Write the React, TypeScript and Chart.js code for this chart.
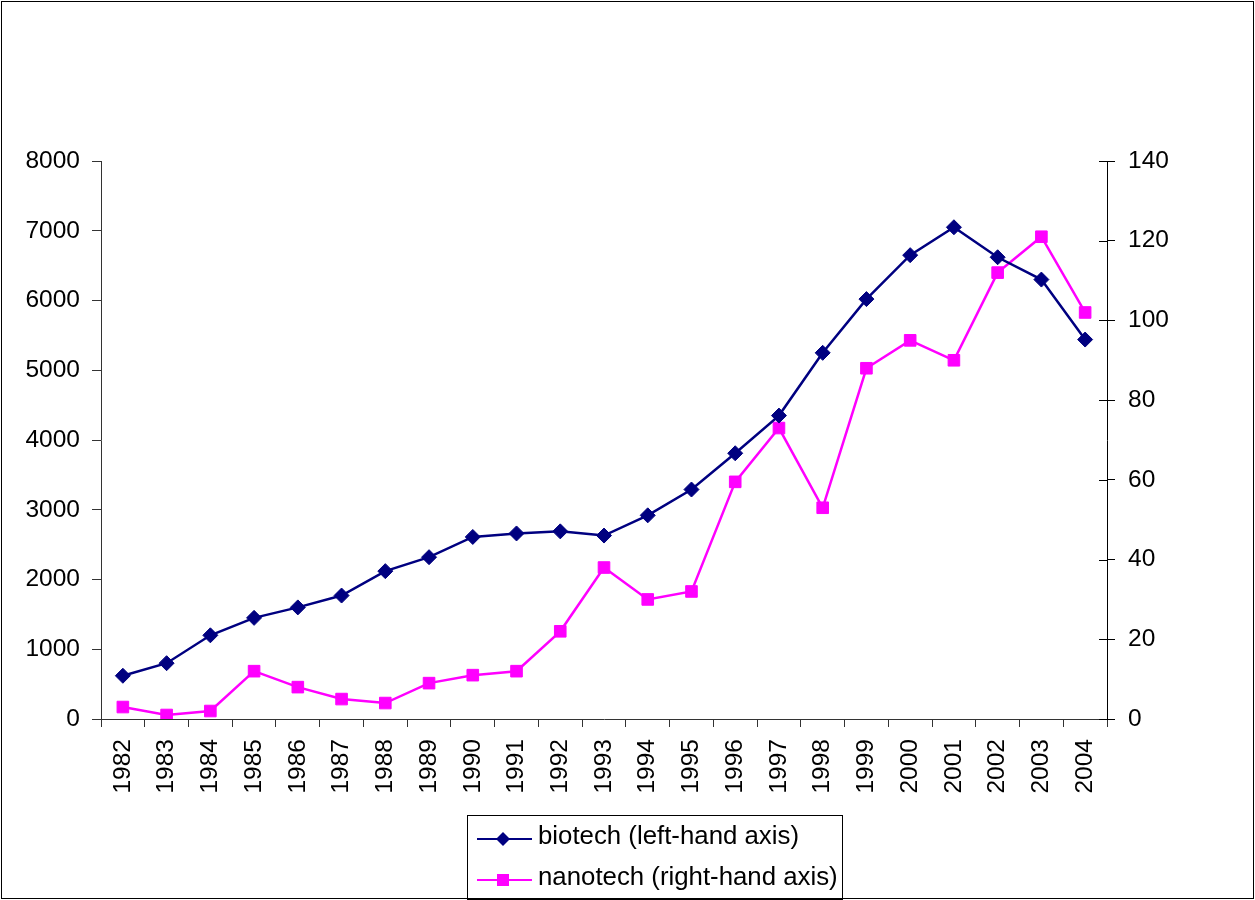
import React, { useEffect, useRef } from "react";
import { Chart, registerables } from "chart.js";

Chart.register(...registerables);

const years = [
  "1982", "1983", "1984", "1985", "1986", "1987", "1988", "1989", "1990", "1991", "1992", "1993",
  "1994", "1995", "1996", "1997", "1998", "1999", "2000", "2001", "2002", "2003", "2004",
];
const biotech = [
  620, 800, 1200, 1450, 1600, 1770, 2120, 2320, 2610, 2660, 2690, 2630,
  2920, 3290, 3810, 4350, 5250, 6020, 6650, 7050, 6620, 6300, 5440,
];
const nanotech = [
  3, 1, 2, 12, 8, 5, 4, 9, 11, 12, 22, 38,
  30, 32, 59.5, 73, 53, 88, 95, 90, 112, 121, 102,
];
const leftTicks = { min: 0, max: 8000, step: 1000 };
const rightTicks = { min: 0, max: 140, step: 20 };

const FONT = '"Liberation Sans", Arial, sans-serif';
const NAVY = "#000080";
const MAGENTA = "#FF00FF";

const decorPlugin = {
  id: "decor",
  afterDraw(chart: any) {
    const ctx = chart.ctx as CanvasRenderingContext2D;
    const area = chart.chartArea;
    ctx.save();
    // inner half of right-axis tick marks
    const y1 = chart.scales.y1;
    ctx.strokeStyle = "#000";
    ctx.lineWidth = 1;
    y1.ticks.forEach((t: any) => {
      const py = Math.round(y1.getPixelForValue(t.value)) + 0.5;
      ctx.beginPath();
      ctx.moveTo(area.right - 8, py);
      ctx.lineTo(area.right, py);
      ctx.stroke();
    });

    // legend box
    const bx = 467.5, by = 815.5, bw = 375, bh = 84;
    ctx.strokeStyle = "#000";
    ctx.lineWidth = 1;
    ctx.strokeRect(bx, by, bw, bh);
    ctx.font = `25.8px ${FONT}`;
    ctx.textBaseline = "middle";
    ctx.textAlign = "left";
    chart.data.datasets.forEach((ds: any, i: number) => {
      const ry = 839 + i * 41;
      ctx.strokeStyle = ds.borderColor;
      ctx.lineWidth = 2;
      ctx.beginPath();
      ctx.moveTo(477, ry);
      ctx.lineTo(532, ry);
      ctx.stroke();
      ctx.fillStyle = ds.borderColor;
      const cx = 503;
      if (ds.pointStyle === "rectRot") {
        ctx.beginPath();
        ctx.moveTo(cx - 7, ry);
        ctx.lineTo(cx, ry - 7);
        ctx.lineTo(cx + 7, ry);
        ctx.lineTo(cx, ry + 7);
        ctx.closePath();
        ctx.fill();
      } else {
        ctx.fillRect(cx - 6, ry - 6, 12, 12);
      }
      ctx.fillStyle = "#000";
      ctx.fillText(ds.label, 538, ry - 2);
    });

    // outer frame
    ctx.strokeStyle = "#000";
    ctx.lineWidth = 1;
    ctx.strokeRect(1.5, 1.5, chart.width - 3, chart.height - 3);
    ctx.restore();
  },
};

export default function App() {
  const ref = useRef<HTMLCanvasElement | null>(null);

  useEffect(() => {
    if (!ref.current) return;
    const tickFont = { family: FONT, size: 24.5 };
    const chart = new Chart(ref.current, {
      type: "line",
      data: {
        labels: years,
        datasets: [
          {
            label: "biotech (left-hand axis)",
            data: biotech,
            yAxisID: "y",
            borderColor: NAVY,
            backgroundColor: NAVY,
            borderWidth: 2.5,
            pointStyle: "rectRot",
            pointRadius: 7.5,
            pointBorderWidth: 1,
            pointBorderColor: NAVY,
            pointBackgroundColor: NAVY,
            tension: 0,
          },
          {
            label: "nanotech (right-hand axis)",
            data: nanotech,
            yAxisID: "y1",
            borderColor: MAGENTA,
            backgroundColor: MAGENTA,
            borderWidth: 2.5,
            pointStyle: "rect",
            pointRadius: 8.2,
            pointBorderWidth: 1,
            pointBorderColor: MAGENTA,
            pointBackgroundColor: MAGENTA,
            tension: 0,
          },
        ],
      },
      options: {
        responsive: false,
        animation: false,
        layout: { padding: { top: 161, left: 0, right: 0, bottom: 0 } },
        plugins: {
          legend: { display: false },
          tooltip: { enabled: false },
        },
        scales: {
          x: {
            type: "category",
            offset: true,
            grid: {
              offset: true,
              drawOnChartArea: false,
              drawTicks: true,
              tickLength: 8,
              color: "#333",
            },
            border: { color: "#333", width: 1 },
            ticks: {
              color: "#000",
              font: tickFont,
              minRotation: 90,
              maxRotation: 90,
              padding: 12,
              autoSkip: false,
            },
            afterFit: (s: any) => {
              s.height = 181;
            },
          },
          y: {
            position: "left",
            min: leftTicks.min,
            max: leftTicks.max,
            grid: { drawOnChartArea: false, tickLength: 9, color: "#333" },
            border: { color: "#333", width: 1 },
            ticks: {
              stepSize: leftTicks.step,
              color: "#000",
              font: tickFont,
              padding: 12,
              callback: (v: any) => String(v),
            },
            afterFit: (s: any) => {
              s.width = 101;
            },
          },
          y1: {
            position: "right",
            min: rightTicks.min,
            max: rightTicks.max,
            grid: { drawOnChartArea: false, tickLength: 8, color: "#000" },
            border: { color: "#000", width: 1 },
            ticks: {
              stepSize: rightTicks.step,
              color: "#000",
              font: tickFont,
              padding: 13,
              callback: (v: any) => String(v),
            },
            afterFit: (s: any) => {
              s.width = 148;
            },
          },
        },
      },
      plugins: [decorPlugin],
    });
    return () => chart.destroy();
  }, []);

  return (
    <div style={{ position: "fixed", left: 0, top: 0, width: 1255, height: 900, background: "#fff" }}>
      <canvas ref={ref} width={1255} height={900} style={{ display: "block" }} />
    </div>
  );
}
